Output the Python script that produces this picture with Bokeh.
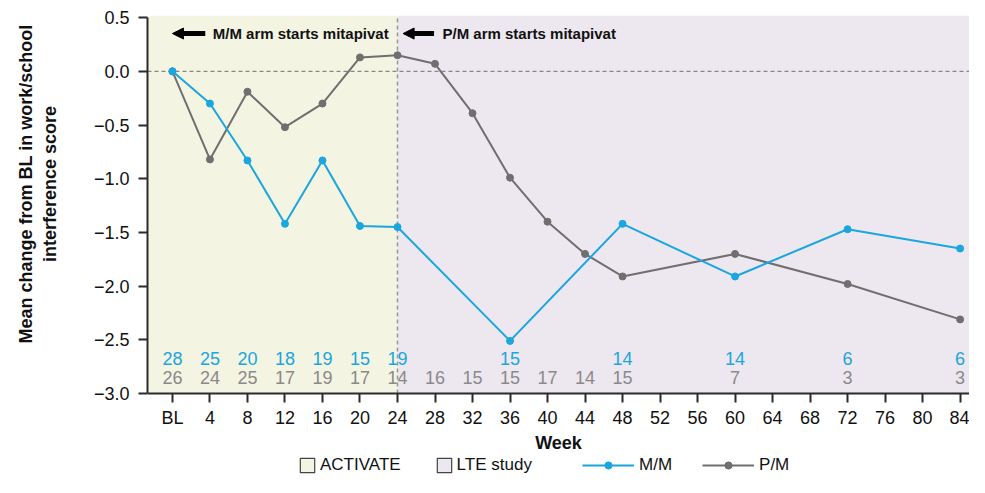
from bokeh.plotting import figure
from bokeh.models import (Range1d, FixedTicker, BoxAnnotation, Span, Label, Arrow,
                          NormalHead, Legend, LegendItem, ColumnDataSource)
from bokeh.core.properties import value
from bokeh.embed import file_html
from bokeh.resources import INLINE

# ---- data ----
weeks_mm = [0, 4, 8, 12, 16, 20, 24, 36, 48, 60, 72, 84]
mean_mm = [0.0, -0.30, -0.83, -1.42, -0.83, -1.44, -1.45, -2.51, -1.42, -1.91, -1.47, -1.65]
n_mm = [28, 25, 20, 18, 19, 15, 19, 15, 14, 14, 6, 6]

weeks_pm = [0, 4, 8, 12, 16, 20, 24, 28, 32, 36, 40, 44, 48, 60, 72, 84]
mean_pm = [0.0, -0.82, -0.19, -0.52, -0.30, 0.13, 0.15, 0.07, -0.39, -0.99, -1.40, -1.70,
           -1.91, -1.70, -1.98, -2.31]
n_pm = [26, 24, 25, 17, 19, 17, 14, 16, 15, 15, 17, 14, 15, 7, 3, 3]

x_ticks = list(range(0, 85, 4))
x_tick_labels = {0: "BL"}
y_ticks = [0.5, 0.0, -0.5, -1.0, -1.5, -2.0, -2.5, -3.0]
y_min, y_top = -3.0, 0.52

activate_end = 24
n_row_mm = -2.67
n_row_pm = -2.855

BLUE = "#1aa6de"
GRAY = "#6f6f6f"
NGRAY = "#8a8a8a"
ACT_FILL = "#f3f4e2"
LTE_FILL = "#ede7ef"
FONT = "Liberation Sans"
NAN = float("nan")

p = figure(width=969, height=477, output_backend="svg", toolbar_location=None,
           x_range=Range1d(-2.66, 85.0), y_range=Range1d(-3.782, y_top),
           min_border_left=147, min_border_right=0, min_border_top=15, min_border_bottom=0)
p.outline_line_color = None
p.grid.visible = False
p.background_fill_color = "white"

# shading
p.add_layout(BoxAnnotation(right=activate_end, bottom=y_min, fill_color=ACT_FILL, fill_alpha=1,
                           line_color=None, level="underlay"))
p.add_layout(BoxAnnotation(left=activate_end, bottom=y_min, fill_color=LTE_FILL, fill_alpha=1,
                           line_color=None, level="underlay"))

# reference lines
p.add_layout(Span(location=0, dimension="width", line_color="#888888", line_dash="4 3",
                  line_width=1.2, level="underlay"))
p.segment(x0=[activate_end], y0=[y_min], x1=[activate_end], y1=[y_top],
          line_color="#999999", line_dash="4 3", line_width=1.5)

# series
r_pm_l = p.line(weeks_pm, mean_pm, line_color=GRAY, line_width=2)
r_pm_s = p.scatter(weeks_pm, mean_pm, size=7, fill_color=GRAY, line_color=GRAY)
r_mm_l = p.line(weeks_mm, mean_mm, line_color=BLUE, line_width=2)
r_mm_s = p.scatter(weeks_mm, mean_mm, size=7, fill_color=BLUE, line_color=BLUE)

# n rows
src_nmm = ColumnDataSource(dict(x=weeks_mm, y=[n_row_mm] * len(weeks_mm), t=[str(v) for v in n_mm]))
src_npm = ColumnDataSource(dict(x=weeks_pm, y=[n_row_pm] * len(weeks_pm), t=[str(v) for v in n_pm]))
p.text(x="x", y="y", text="t", source=src_nmm, text_color=BLUE, text_font=value(FONT),
       text_font_size="18px", text_align="center", text_baseline="middle")
p.text(x="x", y="y", text="t", source=src_npm, text_color=NGRAY, text_font=value(FONT),
       text_font_size="18px", text_align="center", text_baseline="middle")
p.add_layout(Label(x=-3.05, y=n_row_mm, text="n=", text_color=BLUE, text_font=FONT,
                   text_font_size="15px", text_align="right", text_baseline="middle"))
p.add_layout(Label(x=-3.05, y=n_row_pm, text="n=", text_color=NGRAY, text_font=FONT,
                   text_font_size="15px", text_align="right", text_baseline="middle"))

# arrows + annotations
for x0, x1, tx, txt in [(3.5, 0.0, 4.3, "M/M arm starts mitapivat"),
                        (27.9, 24.6, 28.8, "P/M arm starts mitapivat")]:
    p.add_layout(Arrow(end=NormalHead(size=11, fill_color="black", line_color="black"),
                       x_start=x0, y_start=0.352, x_end=x1, y_end=0.352,
                       line_width=5, line_color="black"))
    p.add_layout(Label(x=tx, y=0.352, text=txt, text_font=FONT, text_font_style="bold",
                       text_font_size="15px", text_baseline="middle", text_color="#111111"))

# axes
for ax in (p.xaxis[0], p.yaxis[0]):
    ax.axis_line_width = 2
    ax.axis_line_color = "#2b2b2b"
    ax.major_tick_line_width = 2
    ax.major_tick_line_color = "#2b2b2b"
    ax.major_tick_in = 0
    ax.major_tick_out = 9
    ax.minor_tick_line_color = None
    ax.major_label_text_font = FONT
    ax.major_label_text_font_size = "18px"
    ax.major_label_text_color = "#111111"
    ax.axis_label_text_font = FONT
    ax.axis_label_text_font_style = "bold"
    ax.axis_label_text_color = "#111111"

p.xaxis.ticker = FixedTicker(ticks=x_ticks)
p.xaxis.major_label_overrides = x_tick_labels
p.xaxis.major_label_standoff = 5
p.xaxis.axis_label = "Week"
p.xaxis.axis_label_text_font_size = "18px"
p.xaxis.axis_label_standoff = 2
p.xaxis.fixed_location = y_min

p.yaxis.ticker = FixedTicker(ticks=y_ticks)
p.yaxis.bounds = (y_min, 0.5)
p.yaxis.major_label_overrides = {t: (f"{t:.1f}".replace("-", "\u2212")) for t in y_ticks}
p.yaxis.major_label_standoff = 9
# the frame runs below the x-axis (to hold the legend); lead the title with
# non-breaking spaces so that it is centred on the visible plot area
pad = "\u00a0" * 25
p.yaxis.axis_label = pad + "Mean change from BL in work/school\n" + pad + "interference score"
p.yaxis.axis_label_text_font_size = "18px"
p.yaxis.axis_label_standoff = 31

# legend renderers (no visible data)
r_act = p.quad(left=[NAN], right=[NAN], top=[NAN], bottom=[NAN], fill_color=ACT_FILL,
               line_color="#444444", line_width=1.2)
r_lte = p.quad(left=[NAN], right=[NAN], top=[NAN], bottom=[NAN], fill_color=LTE_FILL,
               line_color="#444444", line_width=1.2)

leg1 = Legend(items=[LegendItem(label="ACTIVATE", renderers=[r_act]),
                     LegendItem(label="LTE study", renderers=[r_lte])],
              orientation="horizontal", location=(151, 2),
              glyph_width=18, glyph_height=18, label_standoff=4, spacing=34,
              padding=0, margin=0, background_fill_alpha=0, border_line_color=None,
              label_text_font=FONT, label_text_font_size="17px", label_text_color="#111111")
leg2 = Legend(items=[LegendItem(label="M/M", renderers=[r_mm_l, r_mm_s]),
                     LegendItem(label="P/M", renderers=[r_pm_l, r_pm_s])],
              orientation="horizontal", location=(435, 2),
              glyph_width=52, glyph_height=18, label_standoff=5, spacing=30,
              padding=0, margin=0, background_fill_alpha=0, border_line_color=None,
              label_text_font=FONT, label_text_font_size="17px", label_text_color="#111111")
p.add_layout(leg1)
p.add_layout(leg2)

open("out.html", "w").write(file_html(p, INLINE))
